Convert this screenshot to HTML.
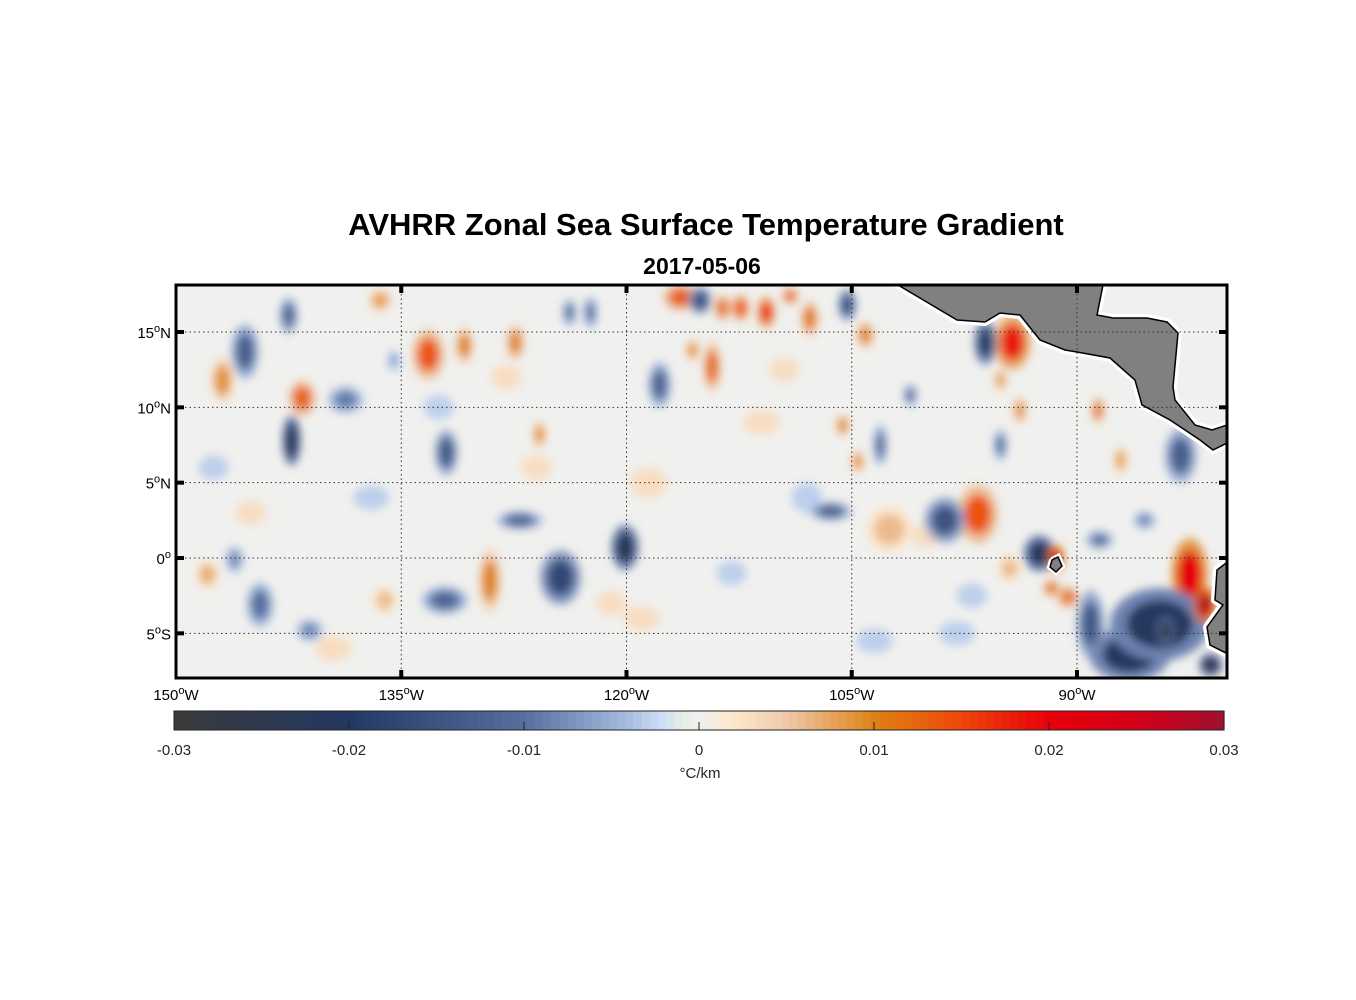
<!DOCTYPE html>
<html><head><meta charset="utf-8">
<style>
html,body{margin:0;padding:0;background:#fff;}
svg{display:block;font-family:"Liberation Sans",Arial,sans-serif;}
</style></head>
<body>
<svg id="chart" width="1356" height="1000" viewBox="0 0 1356 1000" xmlns="http://www.w3.org/2000/svg">
<defs>
  <filter id="blur" x="-20%" y="-20%" width="140%" height="140%"><feGaussianBlur stdDeviation="4.5"/></filter>
  <clipPath id="mapclip"><rect x="176" y="285" width="1051" height="393"/></clipPath>
</defs>
<rect width="1356" height="1000" fill="#fff"/>
<text x="706" y="235" text-anchor="middle" font-size="31" font-weight="bold" fill="#000">AVHRR Zonal Sea Surface Temperature Gradient</text>
<text x="702" y="274" text-anchor="middle" font-size="23" font-weight="bold" fill="#000">2017-05-06</text>
<g id="map" clip-path="url(#mapclip)">
  <rect x="176" y="285" width="1051" height="393" fill="#f0f0ee"/>
  <g id="blobs" filter="url(#blur)"></g>
  <g id="land">
    <polygon points="898,285 957,320 985,322 1000,313 1020,315 1040,340 1065,350 1077,352 1110,358 1135,380 1142,405 1170,420 1200,440 1213,450 1227,443 1227,425 1212,430 1195,425 1175,400 1173,387 1178,333 1167,322 1147,318 1113,318 1097,315 1103,285" fill="#808080" stroke="#fff" stroke-width="8" stroke-linejoin="round"/>
    <polygon points="898,285 957,320 985,322 1000,313 1020,315 1040,340 1065,350 1077,352 1110,358 1135,380 1142,405 1170,420 1200,440 1213,450 1227,443 1227,425 1212,430 1195,425 1175,400 1173,387 1178,333 1167,322 1147,318 1113,318 1097,315 1103,285" fill="#808080" stroke="#000" stroke-width="1.5"/>
    <polygon points="1230,560 1217,570 1215,600 1223,605 1207,627 1210,645 1230,655" fill="#808080" stroke="#fff" stroke-width="8" stroke-linejoin="round"/>
    <polygon points="1230,560 1217,570 1215,600 1223,605 1207,627 1210,645 1230,655" fill="#808080" stroke="#000" stroke-width="1.5"/>
    <polygon points="1052,560 1058,557 1062,566 1056,572 1050,567" fill="#fff" stroke="#fff" stroke-width="6"/>
    <polygon points="1052,560 1058,557 1062,566 1056,572 1050,567" fill="#808080" stroke="#000" stroke-width="1.5"/>
  </g>
  <g id="grid"></g>
</g>
<rect x="176" y="285" width="1051" height="393" fill="none" stroke="#000" stroke-width="3"/>
<g id="ticks"></g>
<g id="colorbar"></g>
</svg>
<script>
// ---- data (lon in degrees West, lat in degrees North) ----
const blobLon = [142.3,145.4,146.9,141.6,133.2,130.8,127.4,136.4,142.5,135.5,138.7,117.8,132.0,120.1,124.4,129.1,132.1,127.1,125.8,116.4,115.1,113.6,112.4,110.7,107.8,109.1,105.3,104.1,122.4,123.8,114.3,115.6,94.3,96.1,88.6,105.6,104.6,103.1,101.1,106.4,98.8,96.6,92.5,91.4,91.7,90.6,89.1,82.5,81.5,84.5,86.5,84.1,81.1,83.1,87.1,88.5,93.8,95.1,102.5,95.1,85.5,94.5,144.4,146.1,147.9,136.1,141.1,118.5,111.0,108.0,100.0,98.0,126.0,119.0,137.0,145.0,132.5,139.5,113.0,121.0,128.0,147.5,103.5,109.5,88.0,97.0];
const blobLat = [7.8,13.7,11.8,10.6,13.5,14.1,14.3,17.1,16.1,13.1,10.5,11.5,7.0,0.7,-1.3,-1.5,-2.8,2.5,8.2,17.3,17.1,16.6,16.6,16.3,15.9,17.4,16.8,14.8,16.3,16.3,12.7,13.8,14.3,14.3,9.8,8.8,6.4,7.5,10.8,3.1,2.5,2.9,0.3,0.0,-2.0,-2.6,-4.4,-1.1,-3.1,-4.4,-6.4,-4.8,-7.1,6.8,6.5,1.2,9.8,11.8,1.9,7.5,2.5,-0.7,-3.1,-0.1,-1.1,-2.8,-4.8,5.0,9.0,4.0,1.5,-5.0,6.0,-4.0,4.0,3.0,10.0,-6.0,-1.0,-3.0,12.0,6.0,-5.5,12.5,-6.5,-2.5];
const blobVal = [-0.024,-0.013,0.009,0.013,0.014,0.01,0.01,0.008,-0.012,-0.006,-0.009,-0.012,-0.014,-0.022,-0.017,0.01,-0.012,-0.012,0.009,0.013,-0.016,0.011,0.014,0.017,0.011,0.011,-0.016,0.01,-0.01,-0.01,0.012,0.009,0.018,-0.019,0.011,0.01,0.009,-0.011,-0.01,-0.013,-0.015,0.014,-0.022,0.023,0.011,0.011,-0.014,0.021,0.028,-0.021,-0.02,-0.026,-0.026,-0.013,0.008,-0.01,0.009,0.008,0.006,-0.01,-0.008,0.006,-0.01,-0.008,0.007,0.006,-0.008,0.003,0.003,-0.003,0.003,-0.003,0.003,0.003,-0.003,0.003,-0.003,0.003,-0.003,0.003,0.003,-0.003,-0.003,0.003,0.003,-0.003];
const blobRx = [0.4,0.6,0.5,0.6,0.7,0.4,0.4,0.5,0.4,0.3,0.8,0.5,0.5,0.6,0.9,0.5,1.0,1.0,0.3,0.8,0.5,0.4,0.4,0.4,0.4,0.4,0.4,0.4,0.3,0.3,0.4,0.3,0.8,0.5,0.3,0.3,0.3,0.3,0.3,0.9,0.9,0.9,0.7,0.35,0.4,0.5,0.6,0.8,0.5,2.2,1.8,0.4,0.5,0.7,0.3,0.6,0.3,0.3,1.0,0.3,0.5,0.5,0.6,0.4,0.5,0.5,0.6,1.2,1.2,1.0,1.0,1.2,1.0,1.2,1.2,1.0,1.0,1.2,1.0,1.0,1.0,1.0,1.2,1.0,1.0,1.0];
const blobRy = [1.1,1.2,1.0,0.8,1.1,0.8,0.8,0.5,0.8,0.5,0.6,1.0,1.0,1.0,1.2,1.4,0.6,0.4,0.6,0.6,0.6,0.6,0.6,0.7,0.8,0.4,0.7,0.6,0.7,0.6,1.1,0.5,1.2,1.0,0.6,0.5,0.5,0.9,0.5,0.4,1.0,1.3,0.8,0.6,0.4,0.5,1.5,1.6,0.8,1.6,1.2,0.6,0.5,1.2,0.6,0.4,0.6,0.5,1.0,0.7,0.4,0.6,1.0,0.6,0.6,0.6,0.5,1.0,0.8,1.0,0.8,0.8,0.8,0.8,0.8,0.8,0.8,0.8,0.8,0.8,0.8,0.8,0.8,0.8,0.8,0.8];
const lonTicks = [150,135,120,105,90];
const lonLabels = ["150","135","120","105","90"];
const latTicks = [15,10,5,0,-5];
const latLabels = ["15","10","5","0","5"];
const latHemi = ["N","N","N","","S"];
const cbTicks = [-0.03,-0.02,-0.01,0,0.01,0.02,0.03];
const cbLabels = ["-0.03","-0.02","-0.01","0","0.01","0.02","0.03"];

// ---- axes ----
const X0=176, X1=1227, Y0=285, Y1=678;
function xLon(lon){ return 176 + (150 - lon) * (1077-176)/60; }
function yLat(lat){ return 558 - lat * (558-332)/15; }
const CB0=174, CB1=1224, CBY=711, CBH=19;
function xCb(v){ return CB0 + (v + 0.03) / 0.06 * (CB1-CB0); }

const stops = [[-0.03,[58,58,58]],[-0.02,[35,56,99]],[-0.01,[88,110,158]],[-0.004,[168,189,224]],[-0.002,[207,224,248]],[-0.001,[228,238,228]],[0,[240,240,238]],[0.002,[253,232,204]],[0.005,[238,200,170]],[0.01,[222,130,20]],[0.015,[240,70,10]],[0.02,[232,0,10]],[0.025,[212,0,24]],[0.03,[160,16,48]]];
function cmap(v){
  v=Math.max(-0.03,Math.min(0.03,v));
  for(let i=0;i<stops.length-1;i++){
    const a=stops[i],b=stops[i+1];
    if(v<=b[0]){ const t=(v-a[0])/(b[0]-a[0]);
      const c=a[1].map((q,k)=>Math.round(q+(b[1][k]-q)*t));
      return `rgb(${c[0]},${c[1]},${c[2]})`; }
  }
  return "rgb(160,16,48)";
}
const NS="http://www.w3.org/2000/svg";
function mk(tag, attrs, parent){ const e=document.createElementNS(NS,tag); for(const k in attrs) e.setAttribute(k,attrs[k]); parent.appendChild(e); return e; }

// ---- blobs ----
const gB=document.getElementById('blobs');
const pxLon=(1077-176)/60, pxLat=(558-332)/15;
const order=blobVal.map((v,i)=>i).sort((a,b)=>Math.abs(blobVal[a])-Math.abs(blobVal[b]));
for(const i of order){
  const cx=xLon(blobLon[i]), cy=yLat(blobLat[i]);
  const hs=Math.abs(blobVal[i])>0.005?1.5:1.0;
  const halo=mk('ellipse',{cx:cx,cy:cy,rx:blobRx[i]*pxLon*hs,ry:blobRy[i]*pxLat*hs,fill:cmap(blobVal[i]*0.4)},gB);
  
  
  const e=mk('ellipse',{cx:cx,cy:cy,rx:blobRx[i]*pxLon,ry:blobRy[i]*pxLat,fill:cmap(blobVal[i])},gB);
  
  
}

// ---- grid & ticks ----
const gG=document.getElementById('grid'), gT=document.getElementById('ticks');
function deg(t, num, hemi){
  const a=document.createElementNS(NS,'tspan'); a.textContent=num; t.appendChild(a);
  const b=document.createElementNS(NS,'tspan'); b.setAttribute('dy','-6'); b.setAttribute('font-size','11'); b.textContent='o'; t.appendChild(b);
  const c=document.createElementNS(NS,'tspan'); c.setAttribute('dy','6'); c.textContent=hemi; t.appendChild(c);
}
lonTicks.forEach((lon,i)=>{
  const x=xLon(lon);
  if(i>0){ const l=mk('line',{x1:x,y1:Y0,x2:x,y2:Y1,stroke:'#333','stroke-width':1,'stroke-dasharray':'1.5,3'},gG);
    
    
    mk('line',{x1:x,y1:Y0,x2:x,y2:Y0+8,stroke:'#000','stroke-width':4},gT);
    mk('line',{x1:x,y1:Y1,x2:x,y2:Y1-8,stroke:'#000','stroke-width':4},gT);
  }
  const t=mk('text',{x:x,y:700,'text-anchor':'middle','font-size':15,fill:'#000'},gT);
  
  
  deg(t, lonLabels[i], 'W');
});
latTicks.forEach((lat,i)=>{
  const y=yLat(lat);
  const l=mk('line',{x1:X0,y1:y,x2:X1,y2:y,stroke:'#333','stroke-width':1,'stroke-dasharray':'1.5,3'},gG);
  
  
  mk('line',{x1:X0,y1:y,x2:X0+8,y2:y,stroke:'#000','stroke-width':4},gT);
  mk('line',{x1:X1,y1:y,x2:X1-8,y2:y,stroke:'#000','stroke-width':4},gT);
  const t=mk('text',{x:171,y:y+6,'text-anchor':'end','font-size':15,fill:'#000'},gT);
  
  
  deg(t, latLabels[i], latHemi[i]);
});

// ---- colorbar ----
const gC=document.getElementById('colorbar');
const N=128;
for(let k=0;k<N;k++){
  const v=-0.03+(k+0.5)/N*0.06;
  const x=CB0+k*(CB1-CB0)/N;
  mk('rect',{x:x,y:CBY,width:(CB1-CB0)/N+0.6,height:CBH,fill:cmap(v)},gC);
}
mk('rect',{x:CB0,y:CBY,width:CB1-CB0,height:CBH,fill:'none',stroke:'#222','stroke-width':1},gC);
cbTicks.forEach((v,i)=>{
  const x=xCb(v);
  if(i>0&&i<cbTicks.length-1) mk('line',{x1:x,y1:CBY+CBH-8,x2:x,y2:CBY+CBH,stroke:'#222','stroke-width':1},gC);
  const t=mk('text',{x:x,y:755,'text-anchor':'middle','font-size':15,fill:'#262626'},gC);
  
  
  t.textContent=cbLabels[i];
});
const u=mk('text',{x:700,y:778,'text-anchor':'middle','font-size':15,fill:'#262626'},gC);


u.textContent='°C/km';
</script>
</body></html>
